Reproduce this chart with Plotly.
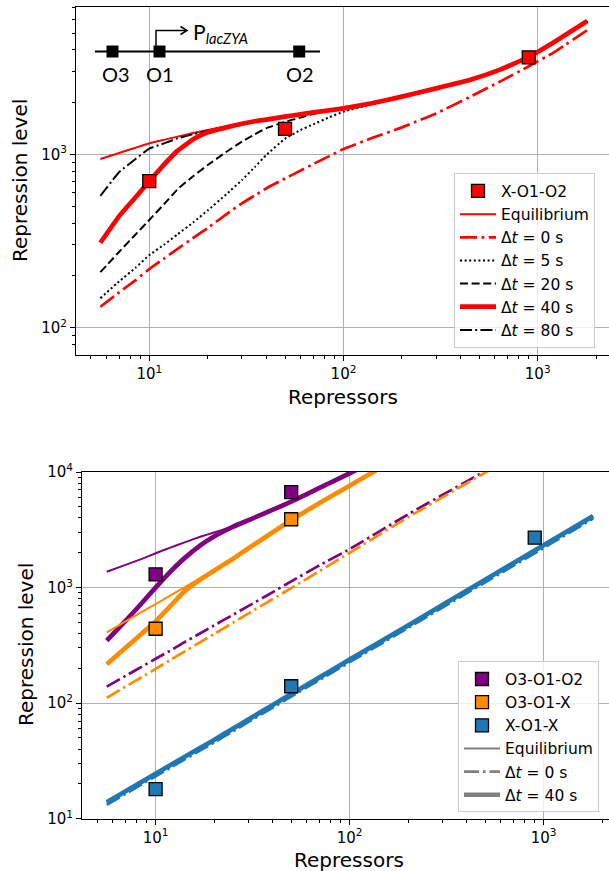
import plotly.graph_objects as go

W, H = 609, 871

# ---------------- top panel data (X-O1-O2) ----------------
top_x = [5.6, 7, 8.5, 10, 12, 14, 17, 20, 25, 30, 35, 40, 50, 60, 70, 85, 100, 140, 200, 300, 450, 650, 900, 1200, 1800]
top_eq = [940, 1018, 1092, 1157, 1215, 1265, 1330, 1381, 1450, 1510, 1555, 1590, 1650, 1700, 1745, 1795, 1840,
          1970, 2150, 2400, 2690, 3100, 3640, 4400, 5870]
top_dt0 = [132, 160, 188, 218, 252, 285, 332, 376, 452, 522, 580, 636, 725, 805, 880, 980, 1072,
           1240, 1430, 1720, 2150, 2650, 3220, 3850, 5200]
top_dt5 = [148, 185, 222, 262, 303, 346, 408, 475, 590, 710, 845, 990, 1230, 1380, 1490, 1640, 1760,
           1950, 2150, 2400, 2690, 3100, 3640, 4400, 5870]
top_dt20 = [209, 274, 345, 418, 520, 630, 755, 867, 1035, 1182, 1305, 1412, 1540, 1630, 1710, 1790, 1840,
            1970, 2150, 2400, 2690, 3100, 3640, 4400, 5870]
top_dt40 = [309, 440, 565, 700, 880, 1050, 1230, 1340, 1430, 1500, 1550, 1585, 1648, 1700, 1745, 1795, 1840,
            1970, 2150, 2400, 2690, 3100, 3640, 4400, 5870]
top_dt80 = [575, 790, 940, 1080, 1160, 1237, 1310, 1370, 1445, 1505, 1555, 1590, 1650, 1700, 1745, 1795, 1840,
            1970, 2150, 2400, 2690, 3100, 3640, 4400, 5870]
top_pts_x = [10, 50, 900]
top_pts_y = [700, 1400, 3620]

# ---------------- bottom panel data ----------------
bot_x = [5.6, 7, 8.5, 10, 12, 14, 17, 20, 25, 30, 40, 50, 70, 100, 200, 500, 1000, 1800]
purple_eq = [1371, 1571, 1770, 1980, 2230, 2450, 2750, 3000, 3380, 3820, 4700, 5530, 7300, 9750,
             17500, 37000, 65000, 105000]
purple_dt40 = [347, 515, 735, 1000, 1390, 1780, 2320, 2770, 3350, 3820, 4700, 5530, 7300, 9750,
               17500, 37000, 65000, 105000]
purple_dt0 = [139, 172, 207, 242, 287, 335, 402, 470, 580, 690, 910, 1130, 1560, 2150,
              4300, 10200, 19500, 34000]
orange_eq = [410, 510, 616, 720, 860, 1000, 1210, 1420, 1800, 2200, 3000, 3845, 5400, 7600,
             15000, 36000, 70000, 120000]
orange_dt40 = [217, 301, 401, 510, 700, 920, 1175, 1400, 1770, 2180, 3000, 3845, 5400, 7600,
               15000, 36000, 70000, 120000]
orange_dt0 = [111, 139, 168, 198, 238, 278, 337, 396, 495, 595, 792, 990, 1390, 2000,
              4050, 9900, 19600, 35000]
blue_eq = [13.9, 17.3, 20.9, 24.5, 29.3, 34, 41, 48, 60, 72, 96, 120, 167, 238, 470, 1170, 2320, 4150]
blue_dt40 = [13.9, 17.3, 20.9, 24.5, 29.3, 34, 41, 48, 60, 72, 96, 120, 167, 238, 470, 1170, 2320, 4150]
blue_dt0 = [13.2, 16.4, 19.9, 23.3, 27.8, 32.3, 39, 45.6, 57, 68.4, 91, 114, 159, 226, 447, 1110, 2200, 3950]
purple_pts_x = [10, 50]
purple_pts_y = [1300, 6700]
orange_pts_x = [10, 50]
orange_pts_y = [440, 3900]
blue_pts_x = [10, 50, 900]
blue_pts_y = [18, 140, 2700]

x_ticks = [10, 100, 1000]
x_labels = ["10<sup>1</sup>", "10<sup>2</sup>", "10<sup>3</sup>"]
top_y_ticks = [100, 1000]
top_y_labels = ["10<sup>2</sup>", "10<sup>3</sup>"]
bot_y_ticks = [10, 100, 1000, 10000]
bot_y_labels = ["10<sup>1</sup>", "10<sup>2</sup>", "10<sup>3</sup>", "10<sup>4</sup>"]

RED, PURPLE, ORANGE, BLUE, GRAY = "#ff0000", "#800080", "#ff8c00", "#1f77b4", "#808080"
FONT = "DejaVu Sans"


def PX(x):
    return x / W


def PY(y):
    return 1 - y / H


fig = go.Figure()


def line(x, y, color, width, dash, name, rank, xa, ya, legend, show=True):
    return go.Scatter(x=x, y=y, mode="lines", name=name, legend=legend, legendrank=rank,
                      showlegend=show, xaxis=xa, yaxis=ya, hoverinfo="skip",
                      line=dict(color=color, width=width, dash=dash, shape="spline", smoothing=0.3))


DD_TOP = "17px,4.5px,2.7px,4.5px"
fig.add_trace(line(top_x, top_eq, RED, 2, "solid", "Equilibrium", 2, "x", "y", "legend"))
fig.add_trace(line(top_x, top_dt0, RED, 2.7, DD_TOP, "Δ<i>t</i> = 0 s", 3, "x", "y", "legend"))
fig.add_trace(line(top_x, top_dt5, "black", 2, "2px,2.6px", "Δ<i>t</i> = 5 s", 4, "x", "y", "legend"))
fig.add_trace(line(top_x, top_dt20, "black", 2, "8px,3.6px", "Δ<i>t</i> = 20 s", 5, "x", "y", "legend"))
fig.add_trace(line(top_x, top_dt80, "black", 2, "12px,3.2px,2px,3.2px", "Δ<i>t</i> = 80 s", 7, "x", "y", "legend"))
fig.add_trace(line(top_x, top_dt40, RED, 4.7, "solid", "Δ<i>t</i> = 40 s", 6, "x", "y", "legend"))
fig.add_trace(go.Scatter(x=top_pts_x, y=top_pts_y, mode="markers", name="X-O1-O2", legend="legend",
                         legendrank=1, xaxis="x", yaxis="y", hoverinfo="skip",
                         marker=dict(symbol="square", size=13, color=RED, line=dict(color="black", width=1.3))))

DD_BOT = "15px,4px,2.5px,4px"
for eq, d0, d40, col in [(purple_eq, purple_dt0, purple_dt40, PURPLE),
                         (orange_eq, orange_dt0, orange_dt40, ORANGE),
                         (blue_eq, blue_dt0, blue_dt40, BLUE)]:
    fig.add_trace(line(bot_x, eq, col, 2, "solid", "", 0, "x2", "y2", "legend2", show=False))
    fig.add_trace(line(bot_x, d0, col, 2.7, DD_BOT, "", 0, "x2", "y2", "legend2", show=False))
    fig.add_trace(line(bot_x, d40, col, 4.7, "solid", "", 0, "x2", "y2", "legend2", show=False))

for px_, py_, col, nm, rk in [(purple_pts_x, purple_pts_y, PURPLE, "O3-O1-O2", 1),
                              (orange_pts_x, orange_pts_y, ORANGE, "O3-O1-X", 2),
                              (blue_pts_x, blue_pts_y, BLUE, "X-O1-X", 3)]:
    fig.add_trace(go.Scatter(x=px_, y=py_, mode="markers", name=nm, legend="legend2", legendrank=rk,
                             xaxis="x2", yaxis="y2", hoverinfo="skip",
                             marker=dict(symbol="square", size=13, color=col,
                                         line=dict(color="black", width=1.3))))

for nm, wd, dash, rk in [("Equilibrium", 2, "solid", 4),
                         ("Δ<i>t</i> = 0 s", 2.7, DD_BOT, 5),
                         ("Δ<i>t</i> = 40 s", 4.7, "solid", 6)]:
    fig.add_trace(go.Scatter(x=[None], y=[None], mode="lines", name=nm, legend="legend2",
                             legendrank=rk, xaxis="x2", yaxis="y2",
                             line=dict(color=GRAY, width=wd, dash=dash)))

minor_x = [5, 6, 7, 8, 9, 20, 30, 40, 50, 60, 70, 80, 90, 200, 300, 400, 500, 600, 700, 800, 900, 2000]
minor_y_top = [80, 90, 200, 300, 400, 500, 600, 700, 800, 900, 2000, 3000, 4000, 5000, 6000, 7000]
minor_y_bot = [20, 30, 40, 50, 60, 70, 80, 90, 200, 300, 400, 500, 600, 700, 800, 900,
               2000, 3000, 4000, 5000, 6000, 7000, 8000, 9000]


def log_axis(domain, rng, major, labels, minor_vals, anchor, mirror):
    return dict(type="log", domain=domain, range=rng, anchor=anchor,
                tickmode="array", tickvals=major, ticktext=labels,
                ticks="outside", ticklen=5, tickwidth=1.1, tickcolor="black",
                showline=True, linecolor="black", linewidth=1.1, mirror=mirror,
                showgrid=True, gridcolor="#b0b0b0", gridwidth=1.1, zeroline=False,
                tickfont=dict(family=FONT, size=15, color="black"),
                minor=dict(tickvals=minor_vals, ticks="outside", ticklen=3, tickwidth=0.9,
                           tickcolor="black", showgrid=False),
                fixedrange=True, automargin=False)


legend_common = dict(bgcolor="rgba(255,255,255,0.8)", bordercolor="#cccccc", borderwidth=1,
                     font=dict(family=FONT, size=15.5, color="black"), itemwidth=36,
                     xanchor="left", yanchor="top", traceorder="normal")

fig.update_layout(
    width=W, height=H, margin=dict(l=0, r=0, t=0, b=0, pad=0, autoexpand=False),
    paper_bgcolor="white", plot_bgcolor="white",
    xaxis=log_axis([76 / W, 1], [0.6227, 3.3672], x_ticks, x_labels, minor_x, "y", True),
    yaxis=log_axis([PY(355), PY(7)], [1.8426, 3.8495], top_y_ticks, top_y_labels, minor_y_top, "x", False),
    xaxis2=log_axis([82 / W, 1], [0.6206, 3.3371], x_ticks, x_labels, minor_x, "y2", True),
    yaxis2=log_axis([PY(818.7), PY(472)], [1, 4], bot_y_ticks, bot_y_labels, minor_y_bot, "x2", False),
    legend=dict(x=PX(454), y=PY(173.4), **legend_common),
    legend2=dict(x=PX(458), y=PY(661.4), **legend_common),
    showlegend=True,
)

ann = []
for txt, x, y, ang in [("Repression level", 20, 181, -90), ("Repressors", 342.5, 396.7, 0),
                       ("Repression level", 26, 645, -90), ("Repressors", 348.5, 860, 0)]:
    ann.append(dict(text=txt, x=PX(x), y=PY(y), xref="paper", yref="paper", showarrow=False,
                    xanchor="center", yanchor="middle", textangle=ang,
                    font=dict(family=FONT, size=20, color="black")))

DFONT = "Lato"
for lab, cx in [("O3", 115.8), ("O1", 160), ("O2", 300)]:
    ann.append(dict(text=lab, x=PX(cx), y=PY(74.3), xref="paper", yref="paper", showarrow=False,
                    xanchor="center", yanchor="middle", font=dict(family=DFONT, size=20, color="black")))
ann.append(dict(text="P<sub><i>lacZYA</i></sub>", x=PX(190.5), y=PY(33), xref="paper", yref="paper",
                showarrow=False, xanchor="left", yanchor="middle",
                font=dict(family=DFONT, size=21, color="black")))

shapes = []
shapes.append(dict(type="line", xref="paper", yref="paper", x0=PX(95), x1=PX(320), y0=PY(51.5), y1=PY(51.5),
                   line=dict(color="black", width=2)))
for cx in [112.5, 159.5, 299.2]:
    shapes.append(dict(type="rect", xref="paper", yref="paper", x0=PX(cx - 6), x1=PX(cx + 6),
                       y0=PY(51.5 + 6), y1=PY(51.5 - 6), fillcolor="black", line=dict(width=0)))


def path(pts):
    return "M " + " L ".join(f"{PX(a):.5f},{PY(b):.5f}" for a, b in pts)


shapes.append(dict(type="path", xref="paper", yref="paper", path=path([(156, 46), (156, 30.5), (186.5, 30.5)]),
                   line=dict(color="black", width=1.5)))
shapes.append(dict(type="path", xref="paper", yref="paper", path=path([(180.5, 26.5), (187, 30.5), (180.5, 34.5)]),
                   line=dict(color="black", width=1.5)))

fig.update_layout(annotations=ann, shapes=shapes)

fig.write_html("out.html", config={"displayModeBar": False},
               post_script="document.body.style.margin='0';document.body.style.overflow='hidden';")
